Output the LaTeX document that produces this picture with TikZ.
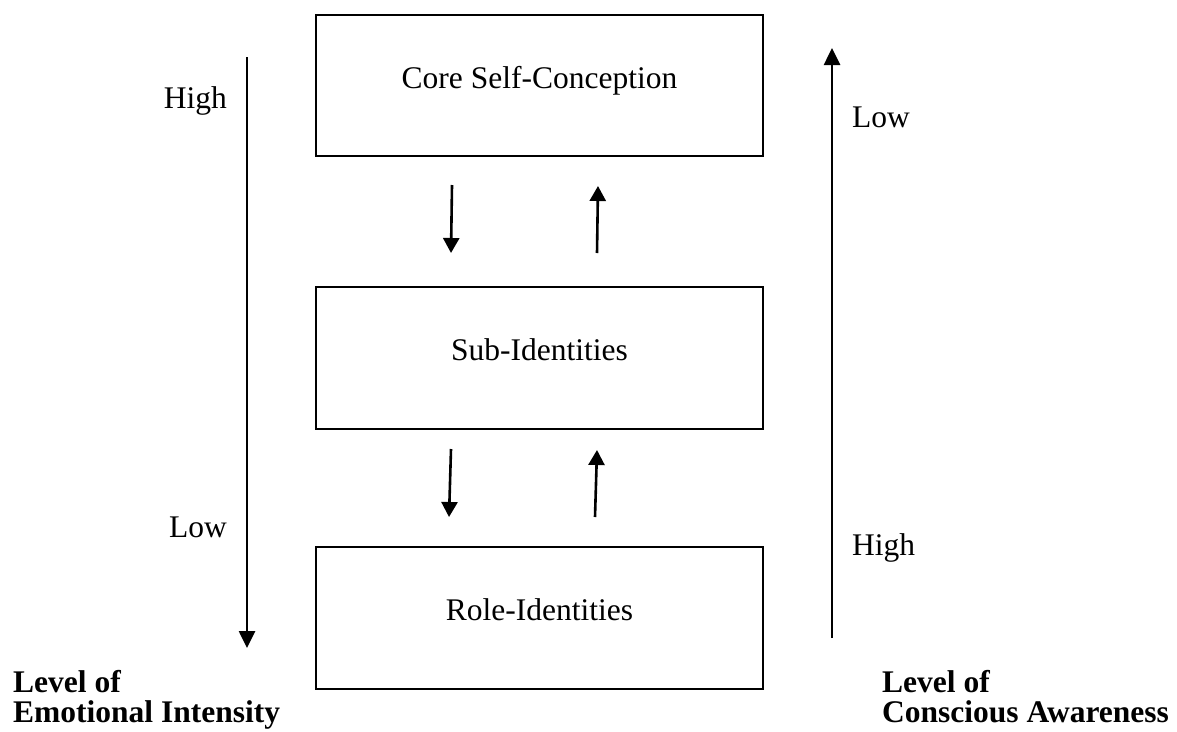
\documentclass[tikz,border=0pt]{standalone}
\usepackage{fontspec}
\setmainfont{Liberation Serif}
\usetikzlibrary{arrows.meta}
\begin{document}
\begin{tikzpicture}[x=1pt,y=-1pt,
  levelbox/.style={draw=black,line width=2pt,rectangle,minimum width=447pt,inner sep=0pt},
  lbl/.style={font=\fontsize{31.5}{36}\selectfont,inner sep=0pt},
  axislbl/.style={font=\fontsize{31.5}{36}\selectfont\bfseries,inner sep=0pt,anchor=base west},
  longarrow/.style={line width=2.6pt,-{Triangle[width=16pt,length=17pt]}},
  shortarrow/.style={line width=2.6pt,-{Triangle[width=16pt,length=15pt]}}]
\useasboundingbox (0,0) rectangle (1177,731);

% the three levels of identity
\node[levelbox,minimum height=141pt] (core) at (539.5,85.5) {};
\node[levelbox,minimum height=142pt] (sub)  at (539.5,358) {};
\node[levelbox,minimum height=142pt] (role) at (539.5,618) {};
\node[lbl,anchor=base] (coreT) at (539.5,88)  {Core Self-Conception};
\node[lbl,anchor=base] (subT)  at (539.5,360) {Sub-Identities};
\node[lbl,anchor=base] (roleT) at (539.5,620) {Role-Identities};

% exchanges between neighbouring levels
\coordinate (d1s) at (452,185); \coordinate (d1e) at (451,253);
\coordinate (u1s) at (597,253); \coordinate (u1e) at (598,186);
\coordinate (d2s) at (451,449); \coordinate (d2e) at (449,517);
\coordinate (u2s) at (595,517); \coordinate (u2e) at (597,450);
\draw[shortarrow] (d1s) -- (d1e);
\draw[shortarrow] (u1s) -- (u1e);
\draw[shortarrow] (d2s) -- (d2e);
\draw[shortarrow] (u2s) -- (u2e);

% emotional intensity scale
\coordinate (eTop) at (247,57); \coordinate (eBot) at (247,648);
\draw[longarrow] (eTop) -- (eBot);
\node[lbl,anchor=base east] (eHigh) at (227,108) {High};
\node[lbl,anchor=base east] (eLow)  at (227,537) {Low};
\node[axislbl] (eLvl) at (13,692) {Level of};
\node[axislbl] (eName) at (13,722) {Emotional Intensity};

% conscious awareness scale
\coordinate (cBot) at (832,638); \coordinate (cTop) at (832,48);
\draw[longarrow] (cBot) -- (cTop);
\node[lbl,anchor=base west] (cLow)  at (852,127) {Low};
\node[lbl,anchor=base west] (cHigh) at (852,555) {High};
\node[axislbl] (cLvl) at (882,692) {Level of};
\node[axislbl] (cName) at (882,722) {Conscious Awareness};
\end{tikzpicture}
\end{document}
